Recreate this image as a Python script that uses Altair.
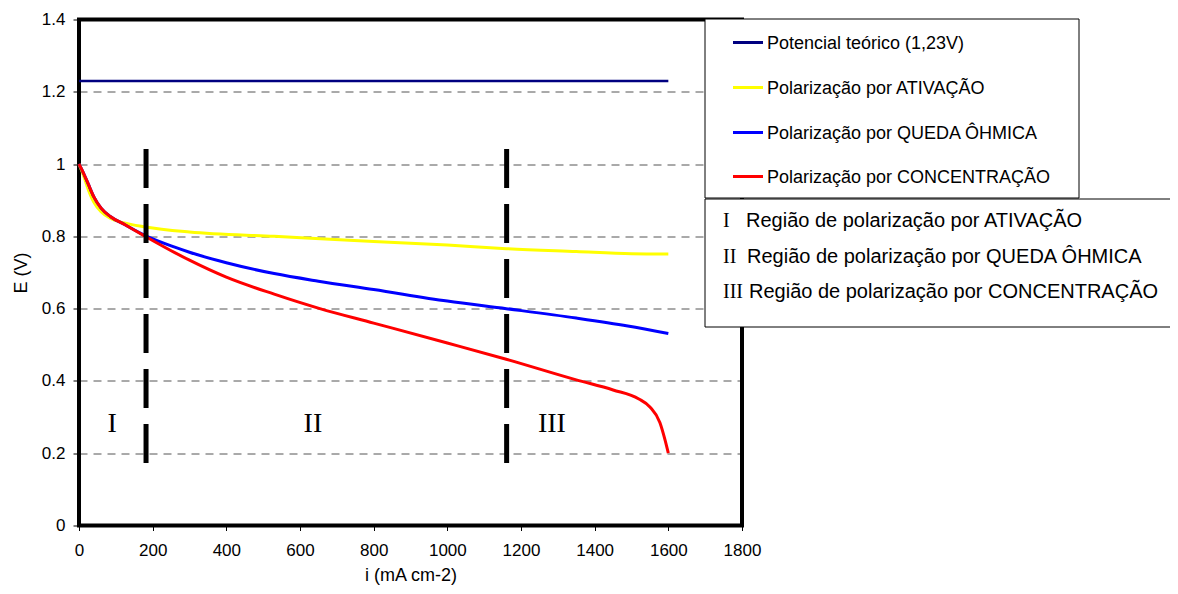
import altair as alt
import pandas as pd

# ---------------- data ----------------
series_names = [
    "Potencial teórico (1,23V)",
    "Polarização por ATIVAÇÃO",
    "Polarização por QUEDA ÔHMICA",
    "Polarização por CONCENTRAÇÃO",
]
series_colors = ["#000080", "#FFFF00", "#0000FF", "#FF0000"]

teorico_i = [0, 1600]
teorico_E = [1.23, 1.23]

ativ_i = [0, 10, 25, 40, 60, 85, 120, 180, 300, 530, 800, 1000, 1160, 1350, 1500, 1600]
ativ_E = [1.0, 0.975, 0.93, 0.895, 0.868, 0.850, 0.838, 0.826, 0.812, 0.800, 0.786,
          0.776, 0.766, 0.758, 0.752, 0.751]

ohm_i = [0, 10, 25, 40, 60, 85, 125, 180, 260, 300, 400, 530, 650, 800, 1000, 1160, 1350, 1490, 1600]
ohm_E = [1.0, 0.98, 0.945, 0.91, 0.878, 0.855, 0.832, 0.802, 0.770, 0.756, 0.727, 0.697,
         0.676, 0.653, 0.621, 0.600, 0.574, 0.552, 0.531]

conc_i = [0, 10, 25, 40, 60, 85, 125, 180, 260, 300, 400, 530, 654, 800, 1000, 1160,
          1350, 1450, 1520, 1550, 1577, 1591, 1600]
conc_E = [1.0, 0.98, 0.945, 0.91, 0.878, 0.855, 0.832, 0.800, 0.755, 0.734, 0.687, 0.640,
          0.600, 0.560, 0.505, 0.460, 0.403, 0.375, 0.350, 0.328, 0.285, 0.237, 0.200]

# region boundaries (dashed vertical lines) and region labels
boundary_i = [182, 1161]
boundary_top = [1.042, 1.042]
boundary_bottom = [0.168, 0.168]

region_labels = ["I", "II", "III"]
region_i = [90, 635, 1284]
region_E = [0.28, 0.28, 0.28]

region_legend_num = ["I", "II", "III"]
region_legend_text = [
    "Região de polarização por ATIVAÇÃO",
    "Região de polarização por QUEDA ÔHMICA",
    "Região de polarização por CONCENTRAÇÃO",
]

x_ticks = [0, 200, 400, 600, 800, 1000, 1200, 1400, 1600, 1800]
y_ticks = [0, 0.2, 0.4, 0.6, 0.8, 1.0, 1.2, 1.4]

# ---------------- chart ----------------
SANS = "Liberation Sans"
SERIF = "Liberation Serif"

x_scale = alt.Scale(domain=[0, 1800], nice=False, zero=False)
y_scale = alt.Scale(domain=[0, 1.4], nice=False)

x_axis = alt.Axis(values=x_ticks, format="d", title="i (mA cm-2)", grid=False,
                  domain=False, tickSize=5, tickColor="black", labelPadding=12,
                  labelFlush=False, labelFontSize=17, labelFont=SANS, labelColor="black",
                  titleFontSize=18, titleFont=SANS, titleFontWeight="normal",
                  titleColor="black", titlePadding=8)
y_axis = alt.Axis(values=y_ticks, format=".1~f", title="E (V)", grid=True,
                  gridDash=[8, 6], gridColor="#555555", gridWidth=1,
                  domain=False, tickSize=6, tickColor="black", labelPadding=8,
                  labelFlush=False, labelFontSize=17, labelFont=SANS, labelColor="black",
                  titleFontSize=18, titleFont=SANS, titleFontWeight="normal",
                  titleColor="black", titlePadding=11)

base_df = pd.DataFrame({"i": [0], "E": [0.0]})

# axes + grid (invisible point anchor)
axes_layer = alt.Chart(base_df).mark_point(opacity=0).encode(
    x=alt.X("i:Q", scale=x_scale, axis=x_axis),
    y=alt.Y("E:Q", scale=y_scale, axis=y_axis),
)

# thick frame around the plot area
frame = alt.Chart(base_df).mark_rect(fillOpacity=0, stroke="black", strokeWidth=4).encode(
    x=alt.datum(0, scale=x_scale), x2=alt.datum(1800),
    y=alt.datum(0, scale=y_scale), y2=alt.datum(1.4),
)

layers = [axes_layer, frame]

all_series = [(teorico_i, teorico_E), (ativ_i, ativ_E), (ohm_i, ohm_E), (conc_i, conc_E)]
for (xs, ys), name, col in zip(all_series, series_names, series_colors):
    df = pd.DataFrame({"i": xs, "E": ys, "serie": name})
    layers.append(
        alt.Chart(df).mark_line(color=col, strokeWidth=3 if col != "#000080" else 2.5,
                                interpolate="monotone").encode(
            x=alt.X("i:Q", scale=x_scale),
            y=alt.Y("E:Q", scale=y_scale),
        )
    )

bound_df = pd.DataFrame({"i": boundary_i, "top": boundary_top, "bottom": boundary_bottom})
layers.append(
    alt.Chart(bound_df).mark_rule(color="black", strokeWidth=5, strokeDash=[39, 16]).encode(
        x=alt.X("i:Q", scale=x_scale),
        y=alt.Y("top:Q", scale=y_scale),
        y2="bottom:Q",
    )
)

reg_df = pd.DataFrame({"i": region_i, "E": region_E, "lab": region_labels})
layers.append(
    alt.Chart(reg_df).mark_text(font=SERIF, fontSize=28, color="black",
                                align="center", baseline="middle").encode(
        x=alt.X("i:Q", scale=x_scale),
        y=alt.Y("E:Q", scale=y_scale),
        text="lab:N",
    )
)

# ---------------- legend boxes (annotation, drawn in pixels) ----------------
box1 = alt.Chart(base_df).mark_rect(fill="white", stroke="black", strokeWidth=1).encode(
    x=alt.value(626), x2=alt.value(1000), y=alt.value(-0.5), y2=alt.value(178.5))
box2 = alt.Chart(base_df).mark_rect(fill="white", stroke="black", strokeWidth=1).encode(
    x=alt.value(626), x2=alt.value(1120), y=alt.value(179.5), y2=alt.value(307.5))
layers += [box1, box2]

row_y = [23, 68, 113, 157]
for k, (name, col) in enumerate(zip(series_names, series_colors)):
    layers.append(
        alt.Chart(base_df).mark_rule(color=col, strokeWidth=3).encode(
            x=alt.value(654), x2=alt.value(684), y=alt.value(row_y[k]))
    )
    layers.append(
        alt.Chart(base_df).mark_text(text=name, font=SANS, fontSize=18, color="black",
                                     align="left", baseline="middle").encode(
            x=alt.value(688), y=alt.value(row_y[k] + 1))
    )

reg_row_y = [201.5, 237.5, 272]
reg_text_x = [667, 668, 670]
for k in range(3):
    layers.append(
        alt.Chart(base_df).mark_text(text=region_legend_num[k], font=SERIF, fontSize=20,
                                     color="black", align="left", baseline="middle").encode(
            x=alt.value(644), y=alt.value(reg_row_y[k]))
    )
    layers.append(
        alt.Chart(base_df).mark_text(text=region_legend_text[k], font=SANS, fontSize=20,
                                     color="black", align="left", baseline="middle").encode(
            x=alt.value(reg_text_x[k]), y=alt.value(reg_row_y[k]))
    )

chart = alt.layer(*layers).properties(
    width=663,
    height=506,
    autosize=alt.AutoSizeParams(type="none"),
    padding={"left": 71, "top": 11.5, "right": 428, "bottom": 60},
).configure_view(stroke=None).configure(background="white")

chart.save("out.html", embed_options={"renderer": "svg", "actions": False})
